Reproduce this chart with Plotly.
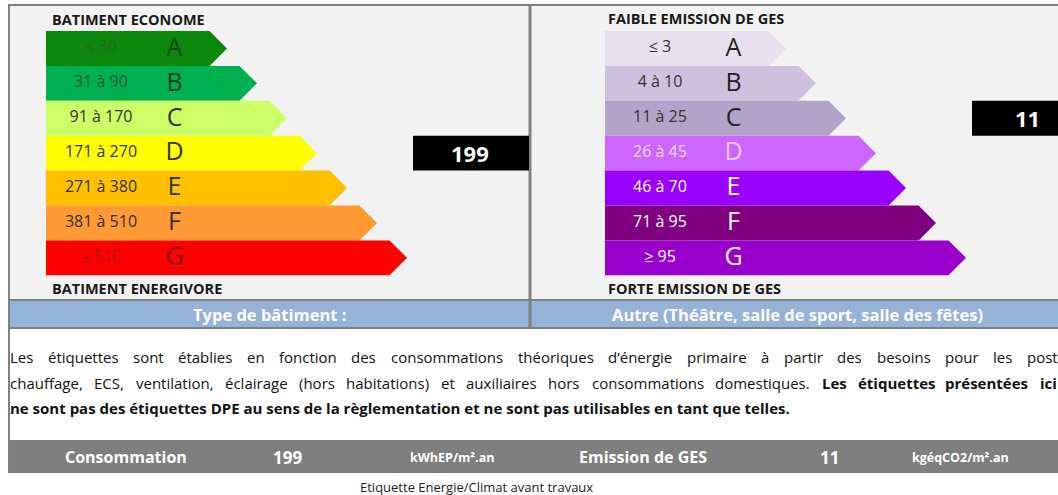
import unicodedata
import plotly.graph_objects as go

# ---- data ----
letters = ["A", "B", "C", "D", "E", "F", "G"]

energy_ranges = ["≤ 30", "31 à 90", "91 à 170", "171 à 270", "271 à 380", "381 à 510", "≥ 510"]
energy_limits = [30, 90, 170, 270, 380, 510]
energy_value = 199

ges_ranges = ["≤ 3", "4 à 10", "11 à 25", "26 à 45", "46 à 70", "71 à 95", "≥ 95"]
ges_limits = [3, 10, 25, 45, 70, 95]
ges_value = 11

building_type = "Autre (Théâtre, salle de sport, salle des fêtes)"
energy_unit = "kWhEP/m².an"
ges_unit = "kgéqCO2/m².an"
caption = "Etiquette Energie/Climat avant travaux"

line1 = "Les étiquettes sont établies en fonction des consommations théoriques d’énergie primaire à partir des besoins pour les postes"
line2_regular = "chauffage, ECS, ventilation, éclairage (hors habitations) et auxiliaires hors consommations domestiques."
line2_bold = "Les étiquettes présentées ici"
line3 = "ne sont pas des étiquettes DPE au sens de la règlementation et ne sont pas utilisables en tant que telles."

# ---- styles ----
energy_colors = ["#0b870b", "#00b050", "#ccff66", "#ffff00", "#ffc000", "#ff9933", "#ff0000"]
energy_text_colors = ["#226b22", "#1d5a33", "#333333", "#333333", "#333333", "#333333", "#b30000"]
energy_letter_colors = ["#0a4a0a", "#173d22", "#333333", "#333333", "#333333", "#333333", "#8c0000"]

ges_colors = ["#e6e0ef", "#cdc1dd", "#b2a4c8", "#cc66ff", "#9900ff", "#800080", "#9900cc"]
ges_text_colors = ["#333333", "#333333", "#333333", "#f6d8ff", "#ffffff", "#ffffff", "#ffffff"]
ges_letter_colors = ["#222222", "#222222", "#222222", "#f2ccff", "#ffffff", "#ffffff", "#ffffff"]

FONT = "Open Sans"
GRAY = "#808080"
W, H = 1058, 495
ROW_TOP, ROW_H = 31, 34.9
BAR_BASE, BAR_STEP = 181, 30

# rough Open Sans advance widths (em), used to justify the paragraph
CW = {" ": .26, "a": .556, "b": .613, "c": .476, "d": .613, "e": .561, "f": .339, "g": .548,
      "h": .614, "i": .253, "j": .253, "k": .525, "l": .253, "m": .930, "n": .614, "o": .604,
      "p": .613, "q": .613, "r": .408, "s": .477, "t": .353, "u": .614, "v": .501, "w": .778,
      "x": .524, "y": .502, "z": .462, ",": .25, ".": .266, "’": .17, "(": .297, ")": .297,
      "A": .633, "B": .648, "C": .631, "D": .729, "E": .556, "F": .516, "G": .728, "H": .738,
      "I": .279, "L": .519, "M": .903, "N": .760, "O": .781, "P": .614, "R": .635, "S": .556,
      "T": .560, "V": .603}


def text_width(s, size, bold=False):
    w = 0
    for c in s:
        base = unicodedata.normalize("NFD", c)[0]
        w += CW.get(base, .57)
    return w * size * (1.07 if bold else 1.0)


def class_index(value, limits):
    return sum(value > l for l in limits)


def arrow(x0, i):
    top = ROW_TOP + i * ROW_H
    bot = top + ROW_H
    tip = x0 + BAR_BASE + BAR_STEP * i
    sh = tip - ROW_H / 2
    return [x0, sh, tip, sh, x0, x0], [top, top, top + ROW_H / 2, bot, bot, top]


fig = go.Figure()

# panels and frame
shapes = [
    dict(type="rect", x0=9, x1=1090, y0=5, y1=300, fillcolor="#f2f2f2", line_width=0),
    dict(type="rect", x0=9, x1=1090, y0=300, y1=328, fillcolor="#95b3d7", line_width=0),
    dict(type="rect", x0=9, x1=1090, y0=328, y1=440, fillcolor="#ffffff", line_width=0),
    dict(type="rect", x0=8, x1=1090, y0=440, y1=473, fillcolor="#7f7f7f", line_width=0),
    dict(type="line", x0=8, x1=1090, y0=5, y1=5, line=dict(color=GRAY, width=2)),
    dict(type="line", x0=9, x1=9, y0=4, y1=473, line=dict(color=GRAY, width=2)),
    dict(type="line", x0=8, x1=1090, y0=300, y1=300, line=dict(color=GRAY, width=2)),
    dict(type="line", x0=8, x1=1090, y0=328, y1=328, line=dict(color=GRAY, width=2)),
    dict(type="line", x0=530, x1=530, y0=5, y1=328, line=dict(color=GRAY, width=3)),
]

# energy / ges arrows
for x0, colors in [(46, energy_colors), (605, ges_colors)]:
    for i, col in enumerate(colors):
        xs, ys = arrow(x0, i)
        fig.add_trace(go.Scatter(x=xs, y=ys, fill="toself", fillcolor=col, mode="lines",
                                 line=dict(width=0), hoverinfo="skip", showlegend=False))

row_mid = [ROW_TOP + (i + 0.5) * ROW_H for i in range(len(letters))]
for x0, ranges, tcol, lcol in [(46, energy_ranges, energy_text_colors, energy_letter_colors),
                               (605, ges_ranges, ges_text_colors, ges_letter_colors)]:
    fig.add_trace(go.Scatter(x=[x0 + 55] * len(ranges), y=row_mid, text=ranges, mode="text",
                             textposition="middle center",
                             textfont=dict(family=FONT, size=16, color=tcol),
                             hoverinfo="skip", showlegend=False))
    fig.add_trace(go.Scatter(x=[x0 + 128.5] * len(letters), y=[m + 1 for m in row_mid], text=letters,
                             mode="text", textposition="middle center",
                             textfont=dict(family=FONT, size=25, color=lcol),
                             hoverinfo="skip", showlegend=False))

# value boxes
ei = class_index(energy_value, energy_limits)
gi = class_index(ges_value, ges_limits)
for (bx0, bx1, tx, idx, val) in [(413, 529, 470, ei, energy_value), (972, 1090, 1027, gi, ges_value)]:
    top = ROW_TOP + idx * ROW_H
    shapes.append(dict(type="rect", x0=bx0, x1=bx1, y0=top, y1=top + ROW_H,
                       fillcolor="#000000", line_width=0))
    fig.add_annotation(x=tx, y=top + ROW_H / 2, text=f"<b>{val}</b>", showarrow=False,
                       font=dict(family=FONT, size=22, color="white"), xanchor="center", yanchor="middle")

ann = []


def add_text(x, y, text, size, color="#1a1a1a", xanchor="left"):
    ann.append(dict(x=x, y=y, text=text, showarrow=False, xanchor=xanchor, yanchor="middle",
                    font=dict(family=FONT, size=size, color=color)))


add_text(50, 19, "<b>BATIMENT ECONOME</b>", 14.5)
add_text(50, 288, "<b>BATIMENT ENERGIVORE</b>", 14.5)
add_text(606, 18, "<b>FAIBLE EMISSION DE GES</b>", 14.5)
add_text(606, 288, "<b>FORTE EMISSION DE GES</b>", 14.5)

add_text(269, 314, "<b>Type de bâtiment :</b>", 16.5, "white", "center")
add_text(797, 314, f"<b>{building_type}</b>", 16.5, "white", "center")

# justified paragraph lines
PS = 15


def justify(words, y, x_start, x_last):
    widths = [text_width(w, PS, b) for w, b in words]
    gap = (x_last - x_start - sum(widths[:-1])) / (len(words) - 1)
    x = x_start
    for (w, b), wd in zip(words, widths):
        add_text(x - 2, y, f"<b>{w}</b>" if b else w, PS, "#111111")
        x += wd + gap


justify([(w, False) for w in line1.split()], 357, 10, 1027)
justify([(w, False) for w in line2_regular.split()] + [(w, True) for w in line2_bold.split()], 383, 10, 1040)
add_text(8, 408, f"<b>{line3}</b>", PS, "#111111")

add_text(126, 457, "<b>Consommation</b>", 16, "white", "center")
add_text(287, 457, f"<b>{energy_value}</b>", 17, "white", "center")
add_text(452, 457, f"<b>{energy_unit}</b>", 12.5, "white", "center")
add_text(643, 457, "<b>Emission de GES</b>", 16, "white", "center")
add_text(829, 457, f"<b>{ges_value}</b>", 17, "white", "center")
add_text(960, 457, f"<b>{ges_unit}</b>", 12.5, "white", "center")

add_text(476, 487, caption, 13, "#222222", "center")

for a in ann:
    fig.add_annotation(**a)

fig.update_layout(
    width=W, height=H,
    margin=dict(l=0, r=0, t=0, b=0),
    paper_bgcolor="white", plot_bgcolor="white",
    shapes=shapes,
    showlegend=False, hovermode=False,
    xaxis=dict(range=[0, W], visible=False, fixedrange=True),
    yaxis=dict(range=[H, 0], visible=False, fixedrange=True),
)
for s in fig.layout.shapes:
    s.layer = "below"

# drop the browser's default body margin so the figure sits at the window origin
fig.write_html("out.html", config={"displayModeBar": False},
               post_script="document.body.style.margin = '0';")
